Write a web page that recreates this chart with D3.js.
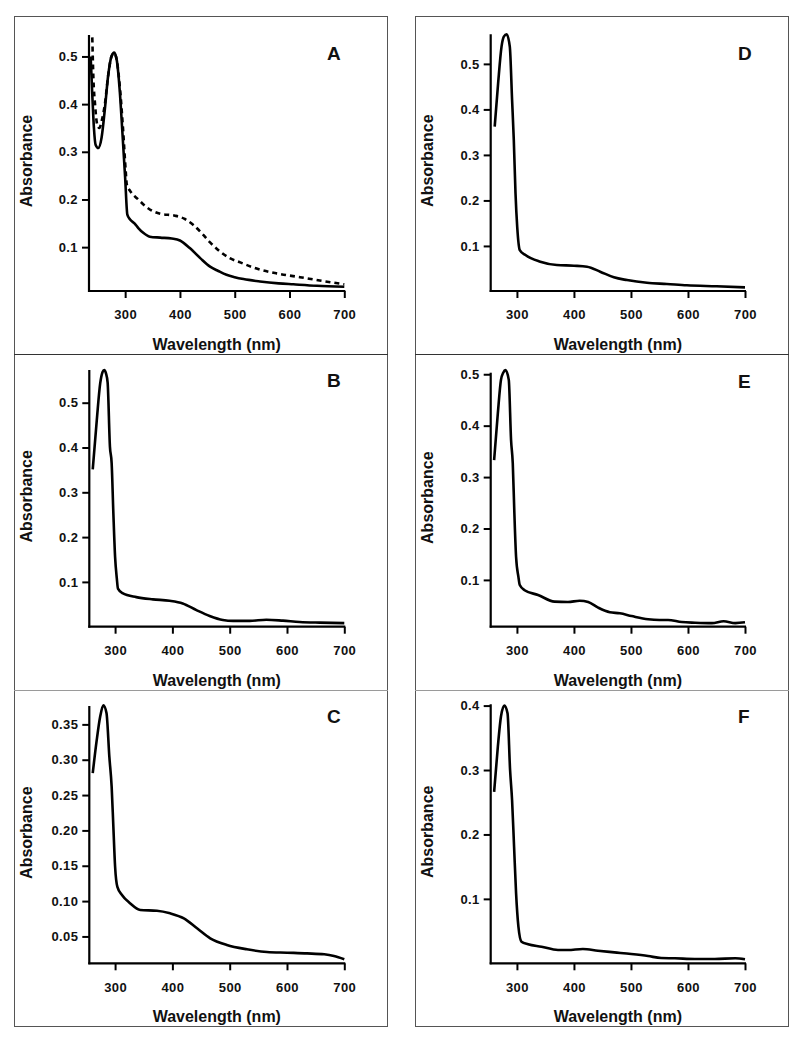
<!DOCTYPE html>
<html>
<head>
<meta charset="utf-8">
<script src="https://cdn.jsdelivr.net/npm/d3@7"></script>
<style>
  html, body { margin: 0; padding: 0; background: #fff; }
  svg { display: block; font-family: "Liberation Sans", Arial, Helvetica, sans-serif; }
</style>
</head>
<body>
<svg id="chart" width="800" height="1040"></svg>
<script>
// ---------------- DATA ----------------
const xTicks = [300, 400, 500, 600, 700];
const yTicksA = [0.1, 0.2, 0.3, 0.4, 0.5];
const yTicksB = [0.1, 0.2, 0.3, 0.4, 0.5];
const yTicksC = [0.05, 0.10, 0.15, 0.20, 0.25, 0.30, 0.35];
const yTicksD = [0.1, 0.2, 0.3, 0.4, 0.5];
const yTicksE = [0.1, 0.2, 0.3, 0.4, 0.5];
const yTicksF = [0.1, 0.2, 0.3, 0.4];

// Panel A, solid spectrum
const wlA1  = [237, 240, 243, 246, 251, 257, 263, 269, 275, 280, 285, 290, 295, 300, 304, 309, 317, 324, 333, 345, 364, 385, 400, 418, 437, 455, 470, 485, 500, 516, 546, 580, 607, 650, 700];
const absA1 = [0.50, 0.42, 0.35, 0.315, 0.308, 0.33, 0.39, 0.46, 0.50, 0.508, 0.49, 0.43, 0.34, 0.245, 0.168, 0.158, 0.150, 0.140, 0.130, 0.122, 0.120, 0.118, 0.114, 0.098, 0.077, 0.059, 0.050, 0.042, 0.037, 0.033, 0.028, 0.024, 0.022, 0.019, 0.017];
// Panel A, dashed spectrum
const wlA2  = [240, 242, 245, 249, 253, 257, 263, 269, 275, 280, 285, 290, 296, 301, 303, 309, 324, 345, 364, 391, 409, 424, 440, 455, 473, 491, 510, 540, 576, 619, 655, 700];
const absA2 = [0.54, 0.455, 0.40, 0.357, 0.35, 0.364, 0.40, 0.46, 0.50, 0.507, 0.49, 0.44, 0.35, 0.26, 0.231, 0.218, 0.200, 0.179, 0.170, 0.166, 0.159, 0.147, 0.129, 0.110, 0.091, 0.077, 0.068, 0.055, 0.045, 0.037, 0.030, 0.022];

// Panel B
const wlB  = [261, 268, 274, 278, 281, 284, 287, 291, 294, 297, 300, 303, 305, 313, 337, 366, 395, 418, 442, 465, 488, 506, 535, 564, 593, 622, 657, 700];
const absB = [0.351, 0.46, 0.543, 0.568, 0.573, 0.566, 0.545, 0.402, 0.365, 0.253, 0.156, 0.108, 0.085, 0.075, 0.066, 0.061, 0.058, 0.052, 0.037, 0.024, 0.015, 0.013, 0.013, 0.0156, 0.0135, 0.0105, 0.009, 0.008];

// Panel C
const wlC  = [261, 268, 274, 279.5, 285, 290, 294, 297, 300, 304, 312, 326, 344, 373, 396, 420, 443, 466, 495, 530, 565, 600, 635, 665, 682, 700];
const absC = [0.281, 0.328, 0.361, 0.377, 0.366, 0.304, 0.262, 0.205, 0.149, 0.120, 0.1086, 0.097, 0.0874, 0.0864, 0.0827, 0.0756, 0.0615, 0.0474, 0.0379, 0.0318, 0.028, 0.027, 0.026, 0.0247, 0.0223, 0.0177];

// Panel D
const wlD  = [261, 267, 273, 277, 282, 287.5, 291.5, 294.5, 297.5, 300.5, 305, 315, 341, 370, 400, 423, 446, 470, 493, 528, 563, 598, 650, 700];
const absD = [0.362, 0.457, 0.538, 0.560, 0.565, 0.538, 0.421, 0.333, 0.216, 0.142, 0.091, 0.080, 0.0654, 0.058, 0.0566, 0.0544, 0.0434, 0.031, 0.025, 0.019, 0.0164, 0.0135, 0.0113, 0.009];

// Panel E
const wlE  = [260, 266.5, 272, 276, 280, 285.7, 289.7, 292.7, 295.5, 298.5, 302.6, 305, 313.5, 337, 366, 389.5, 410, 425, 442.5, 463, 480.5, 501, 530, 550, 565, 589, 612.5, 642, 662.5, 683, 700];
const absE = [0.333, 0.424, 0.489, 0.503, 0.508, 0.489, 0.372, 0.327, 0.230, 0.145, 0.106, 0.090, 0.080, 0.0707, 0.0577, 0.057, 0.0596, 0.057, 0.046, 0.037, 0.035, 0.0298, 0.0234, 0.022, 0.022, 0.018, 0.0168, 0.016, 0.0195, 0.016, 0.0175];

// Panel F
const wlF  = [260, 266.5, 272, 278, 283.5, 288, 291.5, 295, 298.5, 302.6, 308, 319.6, 343, 372, 389.5, 415.6, 442, 471, 500.5, 530, 553, 577, 612, 647, 683, 700];
const absF = [0.266, 0.336, 0.383, 0.400, 0.388, 0.300, 0.253, 0.181, 0.109, 0.057, 0.0336, 0.0295, 0.0258, 0.0206, 0.0206, 0.0222, 0.0196, 0.017, 0.0144, 0.0113, 0.0082, 0.0078, 0.0067, 0.0067, 0.0078, 0.0062];

const xLabel = "Wavelength (nm)";
const yLabel = "Absorbance";
const panelLetters = ["A", "B", "C", "D", "E", "F"];

// ---------------- LAYOUT ----------------
const zip = (w, a) => w.map((d, i) => ({ x: d, y: a[i] }));

const columns = [
  { left: 14, right: 387 },
  { left: 415, right: 788 }
];
const rowsY = [16, 354, 690, 1026];

const panels = [
  { letter: panelLetters[0], col: 0, x0: 89, x1: 344.3, yTop: 35, yBot: 291, xDom: [234, 700], yDom: [0.008, 0.545], yTicks: yTicksA, fmt: ".1f", labelY: 60,
    series: [{ d: zip(wlA1, absA1), dash: false }, { d: zip(wlA2, absA2), dash: true }] },
  { letter: panelLetters[1], col: 0, x0: 89.3, x1: 344.3, yTop: 370, yBot: 626.7, xDom: [255, 700], yDom: [0.0, 0.573], yTicks: yTicksB, fmt: ".1f", labelY: 387,
    series: [{ d: zip(wlB, absB), dash: false }] },
  { letter: panelLetters[2], col: 0, x0: 89.3, x1: 344.3, yTop: 706, yBot: 963.3, xDom: [255, 700], yDom: [0.012, 0.376], yTicks: yTicksC, fmt: ".2f", labelY: 722.7,
    series: [{ d: zip(wlC, absC), dash: false }] },
  { letter: panelLetters[3], col: 1, x0: 490.7, x1: 745, yTop: 34.3, yBot: 291, xDom: [254, 700], yDom: [0.001, 0.565], yTicks: yTicksD, fmt: ".1f", labelY: 60,
    series: [{ d: zip(wlD, absD), dash: false }] },
  { letter: panelLetters[4], col: 1, x0: 490.7, x1: 745, yTop: 372.7, yBot: 626.7, xDom: [254, 700], yDom: [0.009, 0.503], yTicks: yTicksE, fmt: ".1f", labelY: 388,
    series: [{ d: zip(wlE, absE), dash: false }] },
  { letter: panelLetters[5], col: 1, x0: 490.7, x1: 745, yTop: 704.3, yBot: 963.3, xDom: [254, 700], yDom: [0.0, 0.402], yTicks: yTicksF, fmt: ".1f", labelY: 723,
    series: [{ d: zip(wlF, absF), dash: false }] }
];

const svg = d3.select("#chart");

// frames
columns.forEach(c => {
  svg.append("rect")
    .attr("x", c.left + 0.5).attr("y", rowsY[0] + 0.5)
    .attr("width", c.right - c.left).attr("height", rowsY[3] - rowsY[0])
    .attr("fill", "none").attr("stroke", "#555").attr("stroke-width", 1);
  svg.append("line")
    .attr("x1", c.left).attr("x2", c.right + 1)
    .attr("y1", rowsY[1] + 0.5).attr("y2", rowsY[1] + 0.5)
    .attr("stroke", "#333").attr("stroke-width", 1);
  svg.append("line")
    .attr("x1", c.left).attr("x2", c.right + 1)
    .attr("y1", rowsY[2] + 0.5).attr("y2", rowsY[2] + 0.5)
    .attr("stroke", "#9a9a9a").attr("stroke-width", 1);
});

panels.forEach(p => {
  const g = svg.append("g");
  const x = d3.scaleLinear().domain(p.xDom).range([p.x0, p.x1]);
  const y = d3.scaleLinear().domain(p.yDom).range([p.yBot, p.yTop]);

  const xAxis = d3.axisBottom(x).tickValues(xTicks).tickFormat(d3.format("d"))
    .tickSize(7).tickSizeOuter(0).tickPadding(12);
  const yAxis = d3.axisLeft(y).tickValues(p.yTicks).tickFormat(d3.format(p.fmt))
    .tickSize(7).tickSizeOuter(0).tickPadding(4);

  const gx = g.append("g").attr("transform", `translate(0,${p.yBot})`).call(xAxis);
  const gy = g.append("g").attr("transform", `translate(${p.x0},0)`).call(yAxis);
  [gx, gy].forEach(a => {
    a.selectAll("path.domain").attr("stroke", "#000").attr("stroke-width", 2.2);
    a.selectAll(".tick line").attr("stroke", "#000").attr("stroke-width", 2);
    a.selectAll(".tick text").attr("fill", "#111").attr("font-size", 13)
      .attr("font-weight", "bold").attr("font-family", '"Liberation Sans", Arial, sans-serif')
      .attr("letter-spacing", "0.4px");
  });
  // extend x-axis line to meet y-axis at corner
  gx.select("path.domain").attr("d", `M${p.x0 - 1},0H${p.x1 + 1}`);
  gy.select("path.domain").attr("d", `M0,${p.yBot + 1}V${p.yTop}`);

  // curves
  const line = d3.line().x(d => x(d.x)).y(d => y(d.y)).curve(d3.curveMonotoneX);
  p.series.forEach(s => {
    g.append("path").datum(s.d)
      .attr("d", line)
      .attr("fill", "none")
      .attr("stroke", "#000")
      .attr("stroke-width", 2.6)
      .attr("stroke-linejoin", "round")
      .attr("stroke-dasharray", s.dash ? "5,4" : null);
  });

  const colLeft = columns[p.col].left;
  // x title
  g.append("text")
    .attr("x", (p.x0 + p.x1) / 2).attr("y", p.yBot + 59)
    .attr("text-anchor", "middle").attr("font-size", 16).attr("font-weight", "bold")
    .attr("fill", "#111").text(xLabel);
  // y title
  const cy = (p.yTop + p.yBot) / 2 - 2;
  g.append("text")
    .attr("transform", `translate(${colLeft + 18},${cy}) rotate(-90)`)
    .attr("text-anchor", "middle").attr("font-size", 16).attr("font-weight", "bold")
    .attr("fill", "#111").text(yLabel);
  // panel letter
  g.append("text")
    .attr("x", p.col === 0 ? 327 : 738).attr("y", p.labelY)
    .attr("font-size", 19).attr("font-weight", "bold").attr("fill", "#111")
    .text(p.letter);
});
</script>
</body>
</html>
